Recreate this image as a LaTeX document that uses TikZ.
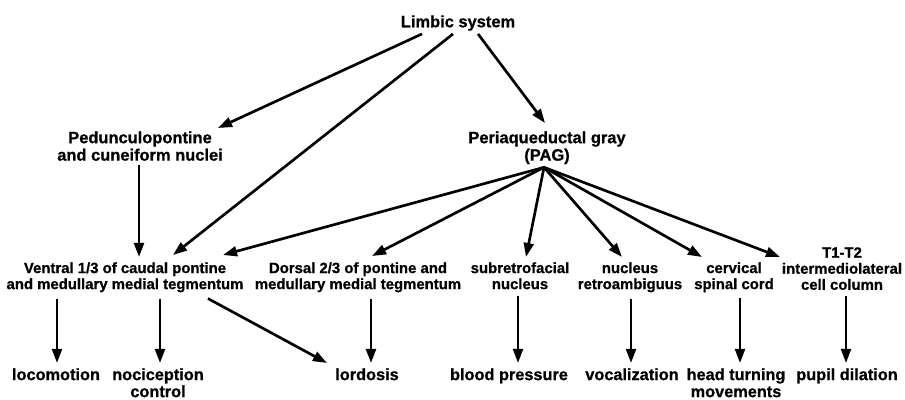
\documentclass[tikz,border=0pt]{standalone}
\usepackage{fontspec}
\setmainfont{Liberation Sans}[BoldFeatures={FakeBold=0.8}]
\usetikzlibrary{calc,arrows.meta}
\tikzset{%
  toplbl/.style={font=\fontsize{11.7}{12.4}\selectfont\bfseries,align=center,inner sep=0},
  midlbl/.style={font=\fontsize{10.6}{11.4}\selectfont\bfseries,align=center,inner sep=0,anchor=north},
  endlbl/.style={font=\fontsize{11.6}{12.1}\selectfont\bfseries,align=center,inner sep=0,anchor=north},
  conn/.style={draw,line width=1.9pt,-{Triangle[length=10pt,width=7pt]}}
}

\begin{document}
\begin{tikzpicture}[x=0.025cm,y=-0.025cm]
  \useasboundingbox (0,0) rectangle (905,400);
  % sources
  \path
    (458,23) node[toplbl] (lim) {Limbic system}
    (140,131) node[toplbl,anchor=north] (ped) {Pedunculopontine\\and cuneiform nuclei}
    (547,131) node[toplbl,anchor=north] (pag) {Periaqueductal gray\\(PAG)};
  % targets
  \path
    (125,262) node[midlbl] (vent) {Ventral 1/3 of caudal pontine\\and medullary medial tegmentum}
    (358,262) node[midlbl] (dors) {Dorsal 2/3 of pontine and\\medullary medial tegmentum}
    (520,262) node[midlbl] (subr) {subretrofacial\\nucleus}
    (630,262) node[midlbl] (nret) {nucleus\\retroambiguus}
    (734,262) node[midlbl] (cerv) {cervical\\spinal cord}
    (842,247) node[midlbl] (t1t2) {T1-T2\\intermediolateral\\cell column};
  % effects
  \path
    (56,368) node[endlbl] (loco) {locomotion}
    (158,368) node[endlbl] (noci) {nociception\\control}
    (367,368) node[endlbl] (lord) {lordosis}
    (509,368) node[endlbl] (bp) {blood pressure}
    (632,368) node[endlbl] (voc) {vocalization}
    (736,368) node[endlbl] (head) {head turning\\movements}
    (847,368) node[endlbl] (pupil) {pupil dilation};

  \draw[conn] ($(lim.south)+(-36,3)$) -- ($(ped.north)+(78,-3)$);
  \draw[conn] ($(lim.south)+(-5,3)$) -- ($(vent.north)+(48,-7)$);
  \draw[conn] ($(lim.south)+(20,3)$) -- ($(pag.north)+(-2,-8)$);
  \draw[conn] ($(ped.south)+(-1,4)$) -- ($(vent.north)+(14,-5)$);

  \coordinate (fan) at ($(pag.south)+(-3,3)$);
  \draw[conn] (fan) -- ($(vent.north)+(98,-7)$);
  \draw[conn] (fan) -- ($(dors.north)+(14,-6)$);
  \draw[conn] (fan) -- ($(subr.north)+(6,-5)$);
  \draw[conn] (fan) -- ($(nret.north)+(-8,-5)$);
  \draw[conn] (fan) -- ($(cerv.north)+(-32,-5)$);
  \draw[conn] (fan) -- ($(t1t2.north)+(-62,10)$);

  \draw[conn] ($(vent.south)+(-68,6)$) -- ($(loco.north)+(1,-5)$);
  \draw[conn] ($(vent.south)+(35,6)$) -- ($(noci.north)+(2,-5)$);
  \draw[conn] ($(vent.south)+(83,6)$) -- ($(lord.north)+(-40,-5)$);
  \draw[conn] ($(dors.south)+(13,6)$) -- ($(lord.north)+(4,-5)$);
  \draw[conn] ($(subr.south)+(-2,6)$) -- ($(bp.north)+(9,-5)$);
  \draw[conn] ($(nret.south)+(1,6)$) -- ($(voc.north)+(-1,-5)$);
  \draw[conn] ($(cerv.south)+(6,6)$) -- ($(head.north)+(4,-5)$);
  \draw[conn] ($(t1t2.south)+(4,6)$) -- ($(pupil.north)+(-1,-5)$);
\end{tikzpicture}
\end{document}
